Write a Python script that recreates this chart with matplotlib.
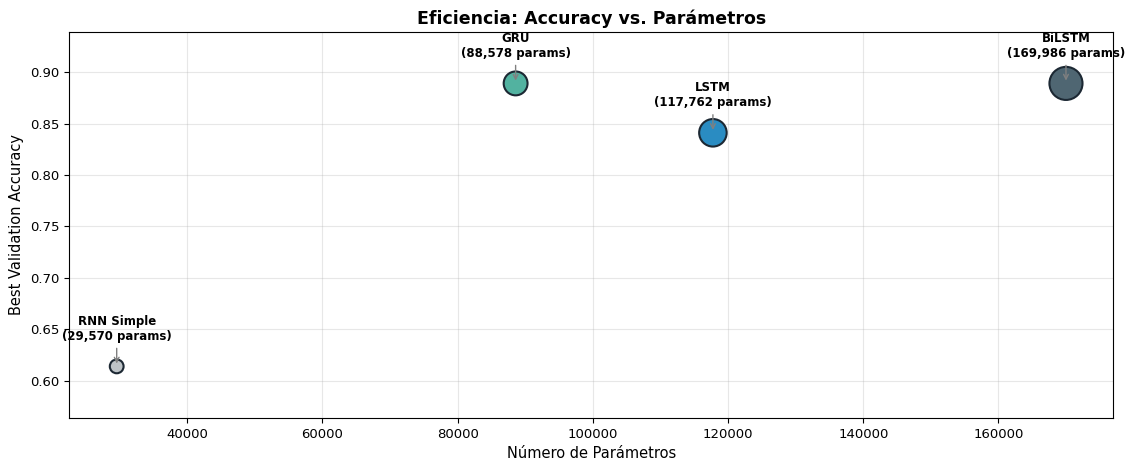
import matplotlib
matplotlib.use("Agg")
import matplotlib.pyplot as plt

modelos = ["RNN Simple", "GRU", "LSTM", "BiLSTM"]
parametros = [29570, 88578, 117762, 169986]
accuracy = [0.614, 0.889, 0.841, 0.889]
colores = ["#bdc3c7", "#52b2a0", "#2a8cc2", "#4f6672"]

fig, ax = plt.subplots(figsize=(11.35, 4.7), dpi=100)
fig.subplots_adjust(left=0.061, right=0.981, top=0.932, bottom=0.111)

tamanos = [p / 300 for p in parametros]
ax.scatter(parametros, accuracy, s=tamanos, c=colores, edgecolors="#1c2833",
           linewidths=1.5, zorder=3)

for m, p, a in zip(modelos, parametros, accuracy):
    ax.annotate(f"{m}\n({p:,} params)", xy=(p, a), xytext=(0, 17),
                textcoords="offset points", ha="center", va="bottom",
                fontsize=8.5, fontweight="bold",
                arrowprops=dict(arrowstyle="->", color="gray", lw=1))

ax.set_ylim(min(accuracy) - 0.05, max(accuracy) + 0.05)
ax.tick_params(labelsize=9.5)
ax.set_xlabel("Número de Parámetros", fontsize=10.5)
ax.set_ylabel("Best Validation Accuracy", fontsize=10.5)
ax.set_title("Eficiencia: Accuracy vs. Parámetros", fontsize=12.5, fontweight="bold")
ax.grid(True, alpha=0.3)

fig.savefig("out.png", dpi=100)
